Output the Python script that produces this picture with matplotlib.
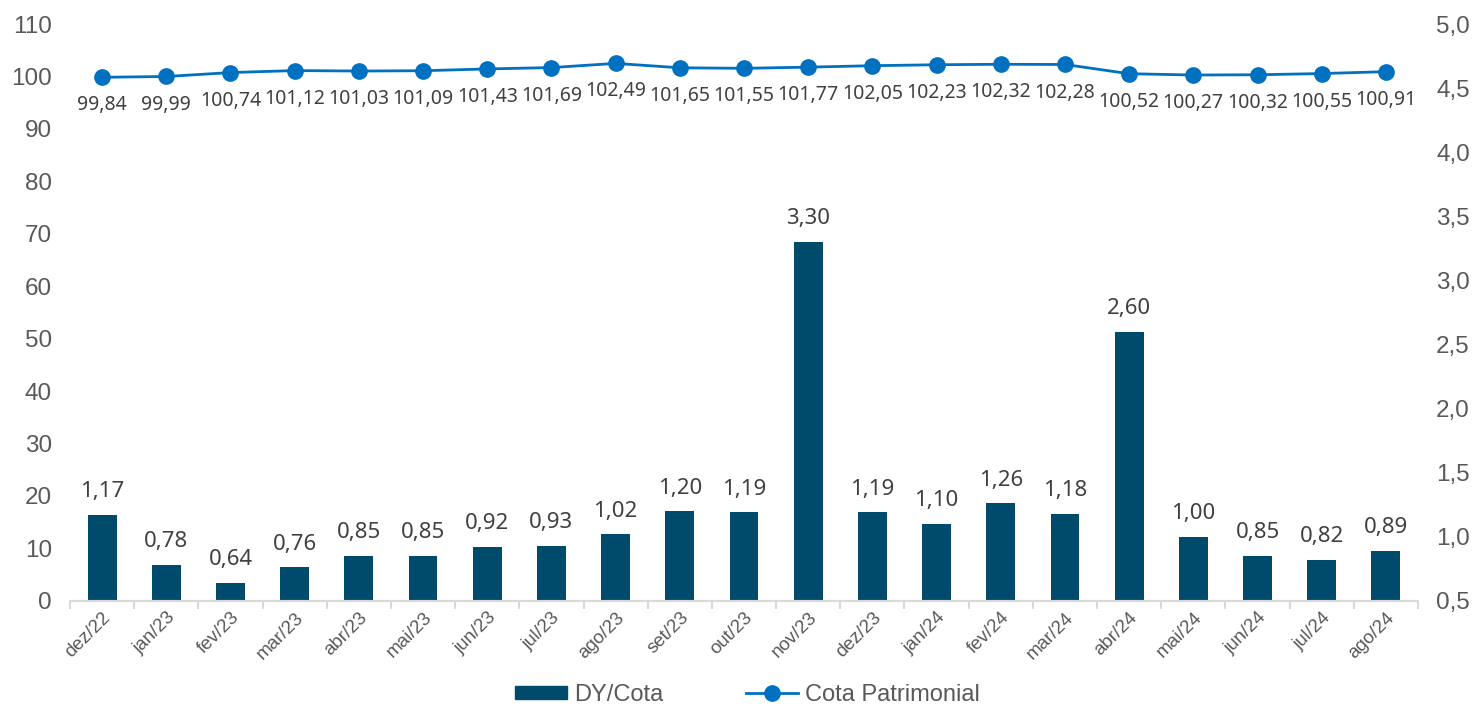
import numpy as np
import matplotlib.pyplot as plt
from matplotlib.lines import Line2D
from matplotlib.patches import Patch

months = ['dez/22', 'jan/23', 'fev/23', 'mar/23', 'abr/23', 'mai/23', 'jun/23',
          'jul/23', 'ago/23', 'set/23', 'out/23', 'nov/23', 'dez/23', 'jan/24',
          'fev/24', 'mar/24', 'abr/24', 'mai/24', 'jun/24', 'jul/24', 'ago/24']
dy_cota = [1.17, 0.78, 0.64, 0.76, 0.85, 0.85, 0.92, 0.93, 1.02, 1.20, 1.19,
           3.30, 1.19, 1.10, 1.26, 1.18, 2.60, 1.00, 0.85, 0.82, 0.89]
cota_patr = [99.84, 99.99, 100.74, 101.12, 101.03, 101.09, 101.43, 101.69,
             102.49, 101.65, 101.55, 101.77, 102.05, 102.23, 102.32, 102.28,
             100.52, 100.27, 100.32, 100.55, 100.91]

bar_color = '#004B6B'
line_color = '#0070C0'
txt = '#595959'

def br(v):
    return f'{v:.2f}'.replace('.', ',')

fig = plt.figure(figsize=(14.74, 7.06), dpi=100)
ax = fig.add_axes([0.0475, 0.149, 0.9145, 0.817])
ax2 = ax.twinx()

x = np.arange(len(months))

# bars on right axis (starts at 0,5)
ax2.bar(x, dy_cota, width=0.45, color=bar_color)
for xi, v in zip(x, dy_cota):
    ax2.annotate(br(v), (xi, v), xytext=(0, 9), textcoords='offset points',
                 ha='center', va='bottom', fontsize=16, color='#404040',
                 family='Noto Sans')
ax2.set_ylim(0.5, 5.0)
ax2.set_yticks(np.arange(0.5, 5.01, 0.5))
ax2.set_yticklabels([f'{v:.1f}'.replace('.', ',') for v in np.arange(0.5, 5.01, 0.5)])

# line on left axis
ax.plot(x, cota_patr, color=line_color, lw=2, marker='o', ms=11)
for xi, v in zip(x, cota_patr):
    ax.annotate(br(v), (xi, v), xytext=(0, -13), textcoords='offset points',
                ha='center', va='top', fontsize=14, color='#404040',
                family='Noto Sans')
ax.set_ylim(0, 110)
ax.set_yticks(range(0, 111, 10))
ax.set_xlim(-0.5, len(months) - 0.5)

ax.set_zorder(ax2.get_zorder() + 1)
ax.patch.set_visible(False)

for a in (ax, ax2):
    for s in ('top', 'left', 'right'):
        a.spines[s].set_visible(False)
    a.spines['bottom'].set_color('#D9D9D9')
    a.spines['bottom'].set_linewidth(1.5)
    a.tick_params(axis='y', length=0, labelsize=17.5, labelcolor=txt, pad=13)
    for lbl in a.get_yticklabels():
        lbl.set_family('Liberation Sans')

ax.set_xticks(x)
ax.set_xticklabels(months, rotation=45, ha='right', rotation_mode='anchor',
                   fontsize=13.5, color=txt, family='Liberation Sans')
ax.tick_params(axis='x', which='major', length=0, pad=6)
ax.set_xticks(np.arange(-0.5, len(months), 1), minor=True)
ax.tick_params(axis='x', which='minor', length=6, color='#D9D9D9', width=1.5)
ax2.tick_params(axis='x', which='both', length=0)

handles = [Patch(color=bar_color, label='DY/Cota'),
           Line2D([0], [0], color=line_color, lw=2, marker='o', ms=11,
                  label='Cota Patrimonial')]
fig.legend(handles=handles, loc='center', bbox_to_anchor=(0.507, 0.016),
           ncol=2, frameon=False, labelcolor=txt, borderpad=0,
           handlelength=2.2, handleheight=0.5, handletextpad=0.3,
           columnspacing=3.5,
           prop={'family': 'Liberation Sans', 'size': 17})

fig.savefig('out.png', dpi=100)
